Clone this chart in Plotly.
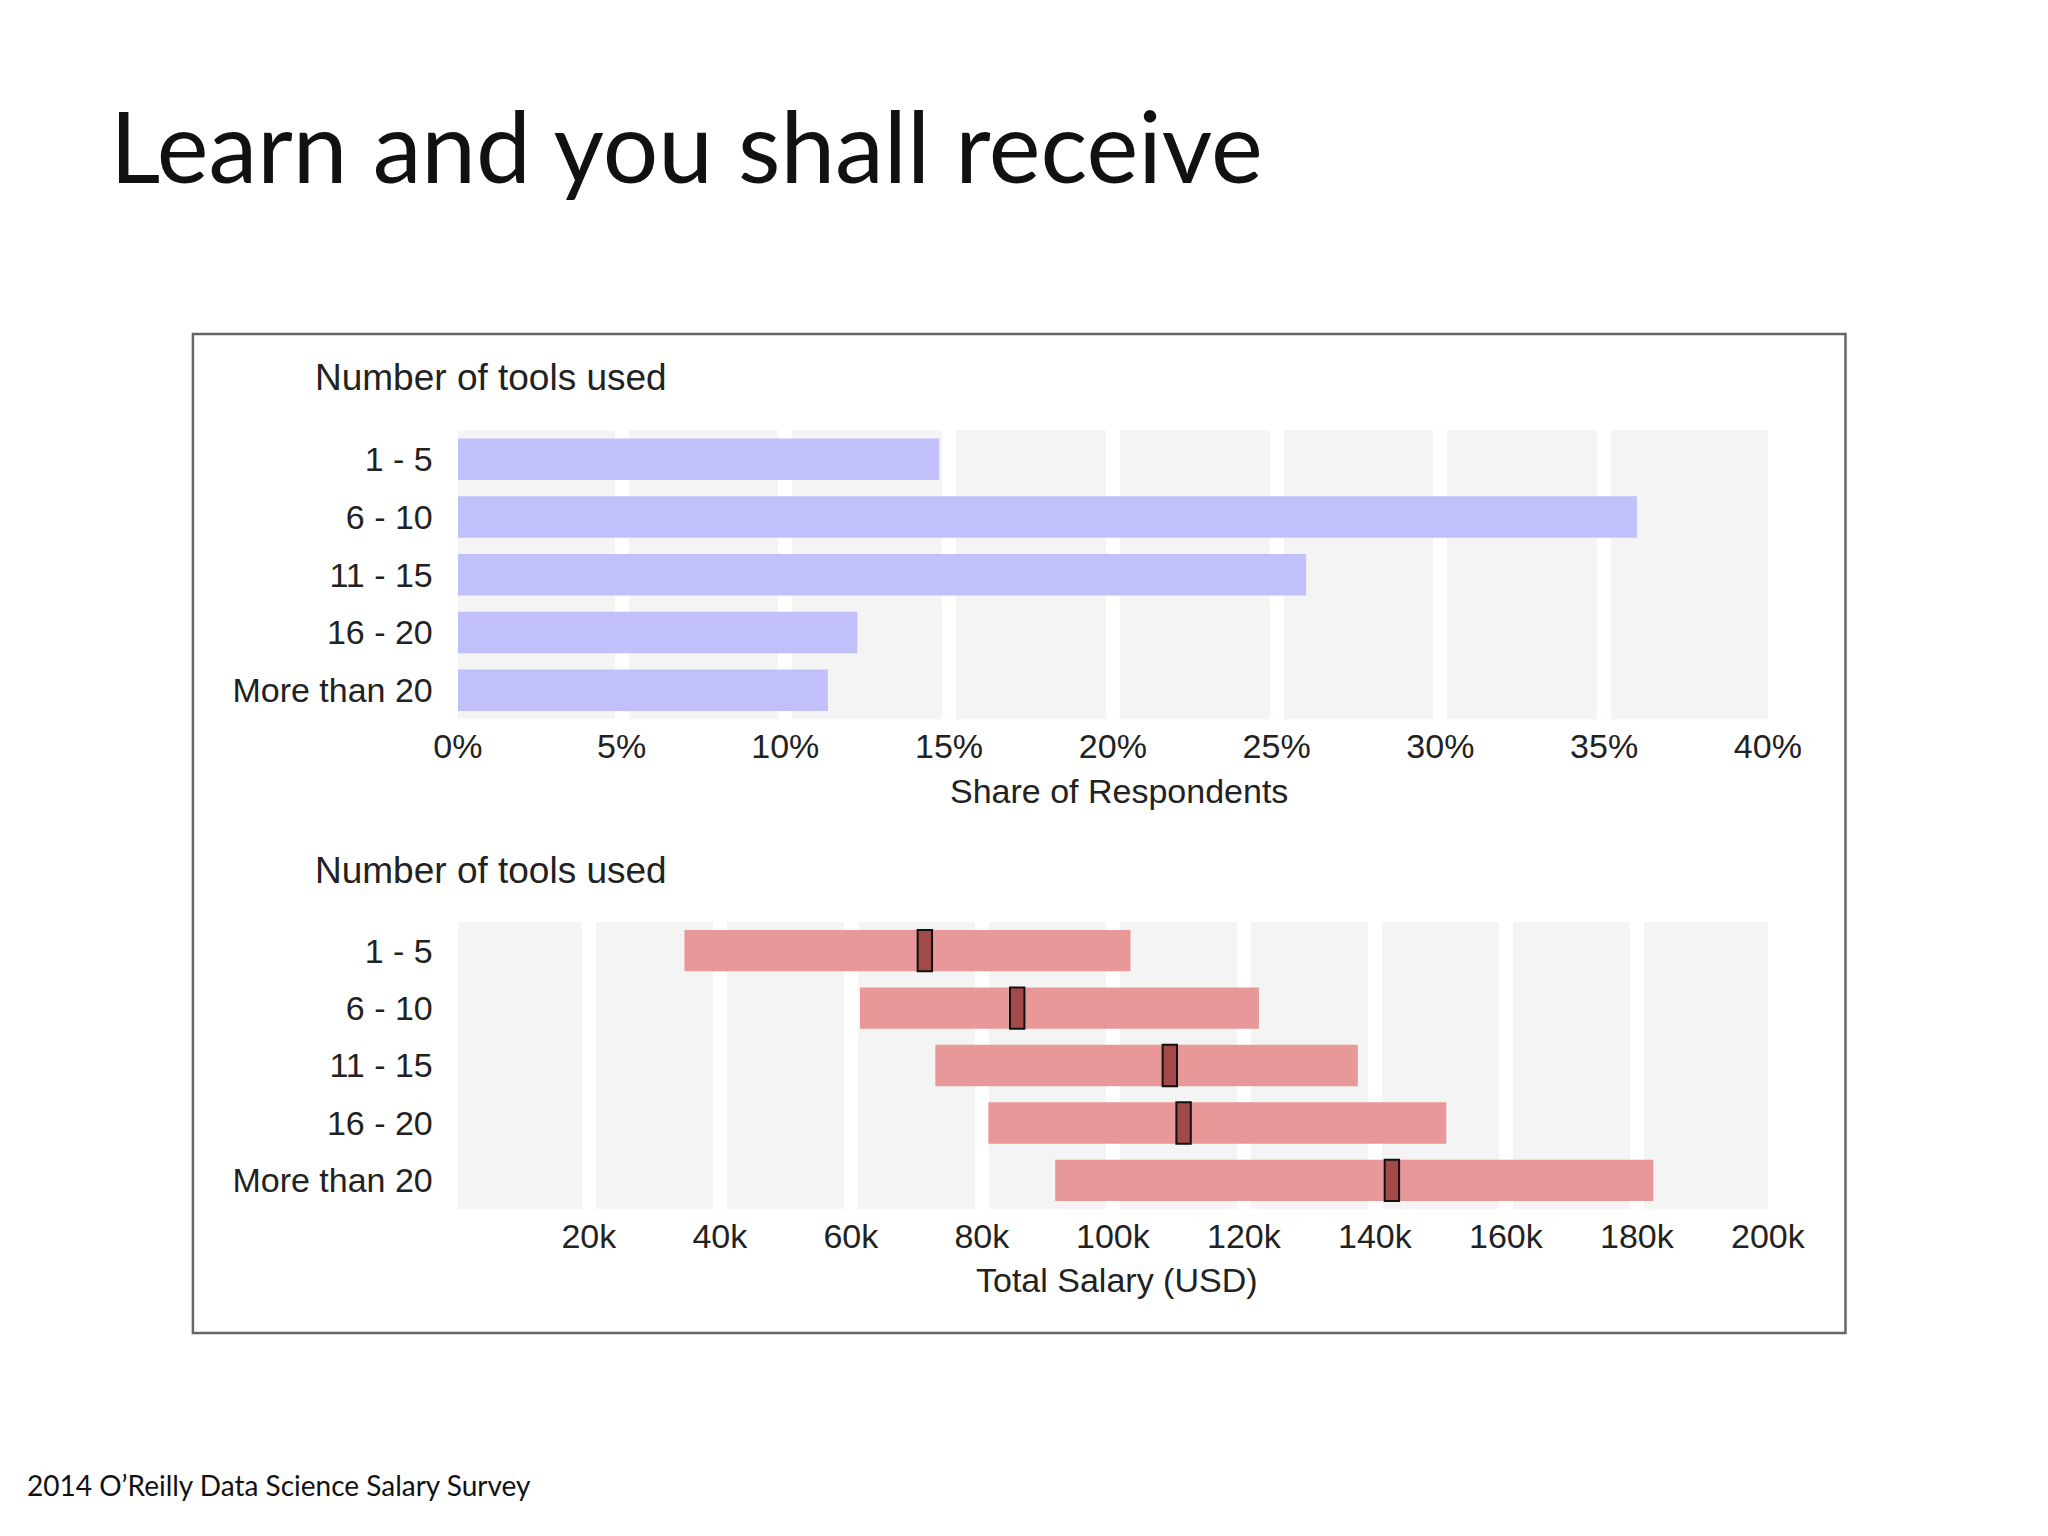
import plotly.graph_objects as go
from plotly.subplots import make_subplots

categories = ['1 - 5', '6 - 10', '11 - 15', '16 - 20', 'More than 20']
share_pct = [14.7, 36.0, 25.9, 12.2, 11.3]
salary_low = [34600, 61400, 72900, 81000, 91200]
salary_high = [102700, 122300, 137400, 150900, 182500]
salary_median = [71300, 85400, 108700, 110800, 142600]
salary_ticks = [20000, 40000, 60000, 80000, 100000, 120000, 140000, 160000, 180000, 200000]
salary_ticktext = ['20k', '40k', '60k', '80k', '100k', '120k', '140k', '160k', '180k', '200k']
pct_ticks = [0, 5, 10, 15, 20, 25, 30, 35, 40]

W, H = 2048, 1536
fnt = 'Liberation Sans, Arial, sans-serif'

fig = make_subplots(rows=2, cols=1)

fig.add_trace(go.Bar(y=categories, x=share_pct, orientation='h', width=0.72,
                     marker=dict(color='#c1c0fb', line_width=0)), row=1, col=1)

fig.add_trace(go.Bar(y=categories, x=[h - l for l, h in zip(salary_low, salary_high)],
                     base=salary_low, orientation='h', width=0.72,
                     marker=dict(color='#e89898', line_width=0)), row=2, col=1)
med_w = 2200
fig.add_trace(go.Bar(y=categories, x=[med_w] * 5, base=[m - med_w / 2 for m in salary_median],
                     orientation='h', width=0.72,
                     marker=dict(color='#a24a4a', line=dict(color='#111', width=2))), row=2, col=1)

axis_common = dict(showgrid=True, gridcolor='white', gridwidth=14, zeroline=False,
                   showline=False, ticks='', tickfont=dict(size=34, color='#222', family=fnt))
fig.update_xaxes(domain=[0.214, 0.874], **axis_common)
fig.update_yaxes(autorange='reversed', showgrid=False, zeroline=False, ticks='',
                 ticklabelstandoff=24, tickfont=dict(size=34, color='#222', family=fnt))

fig.update_xaxes(range=[0, 40], tickvals=pct_ticks, ticktext=[f'{v}%' for v in pct_ticks],
                 ticklabelstandoff=4, row=1, col=1)
fig.update_xaxes(range=[0, 200000], tickvals=salary_ticks, ticktext=salary_ticktext,
                 ticklabelstandoff=4, row=2, col=1)
fig.update_yaxes(domain=[0.537, 0.725], row=1, col=1)
fig.update_yaxes(domain=[0.218, 0.405], row=2, col=1)

ann = [
    dict(text='Learn and you shall receive', x=77 / W, y=1 - 137 / H, xanchor='left', yanchor='middle',
         font=dict(size=98, color='#111', family='Lato, sans-serif')),
    dict(text='2014 O’Reilly Data Science Salary Survey', x=-8 / W, y=1 - 1477 / H, xanchor='left',
         yanchor='middle', font=dict(size=28, color='#111', family='Lato, sans-serif')),
    dict(text='Number of tools used', x=289 / W, y=1 - 370 / H, xanchor='left', yanchor='middle',
         font=dict(size=37, color='#222', family=fnt)),
    dict(text='Number of tools used', x=289 / W, y=1 - 862 / H, xanchor='left', yanchor='middle',
         font=dict(size=37, color='#222', family=fnt)),
    dict(text='Share of Respondents', x=1120 / W, y=1 - 783 / H, xanchor='center', yanchor='middle',
         font=dict(size=34, color='#222', family=fnt)),
    dict(text='Total Salary (USD)', x=1118 / W, y=1 - 1272 / H, xanchor='center', yanchor='middle',
         font=dict(size=34, color='#222', family=fnt)),
]
for a in ann:
    a.update(xref='paper', yref='paper', showarrow=False)

fig.update_layout(
    width=W, height=H, margin=dict(l=0, r=0, t=0, b=0),
    paper_bgcolor='white', plot_bgcolor='#f4f4f4',
    barmode='overlay', showlegend=False, bargap=0.28,
    annotations=ann,
    shapes=[dict(type='rect', xref='paper', yref='paper',
                 x0=165 / W, x1=1870 / W, y0=1 - 1325 / H, y1=1 - 326 / H,
                 line=dict(color='#666', width=2.5))],
)

fig.write_html('out.html')
